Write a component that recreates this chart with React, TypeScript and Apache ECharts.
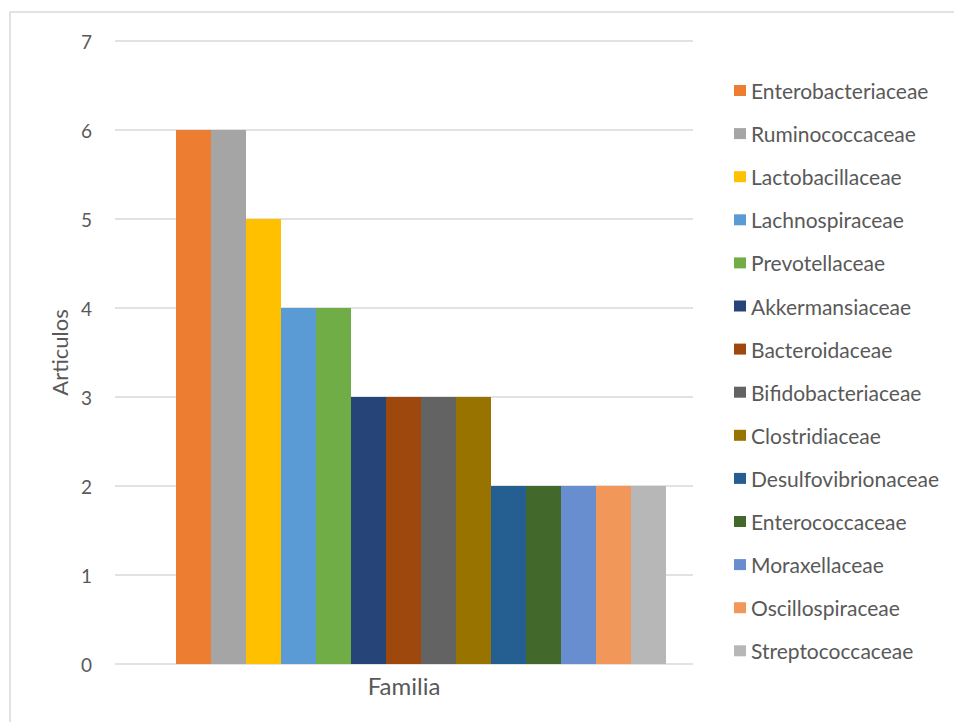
import React, { useEffect, useRef } from "react";
import * as echarts from "echarts";

// Number of articles per bacterial family
const families = [
  "Enterobacteriaceae",
  "Ruminococcaceae",
  "Lactobacillaceae",
  "Lachnospiraceae",
  "Prevotellaceae",
  "Akkermansiaceae",
  "Bacteroidaceae",
  "Bifidobacteriaceae",
  "Clostridiaceae",
  "Desulfovibrionaceae",
  "Enterococcaceae",
  "Moraxellaceae",
  "Oscillospiraceae",
  "Streptococcaceae",
];
const articles = [6, 6, 5, 4, 4, 3, 3, 3, 3, 2, 2, 2, 2, 2];
const colors = [
  "#ED7D31",
  "#A5A5A5",
  "#FFC000",
  "#5B9BD5",
  "#70AD47",
  "#264478",
  "#9E480E",
  "#636363",
  "#997300",
  "#255E91",
  "#43682B",
  "#698ED0",
  "#F1975A",
  "#B7B7B7",
];
const category = ["Familia"];
const yTicks = { min: 0, max: 7, interval: 1 };

const FONT = "Lato, 'Noto Sans', sans-serif";
const TEXT = "#595959";
const GRIDLINE = "#D9D9D9";

export default function App() {
  const ref = useRef<HTMLDivElement>(null);

  useEffect(() => {
    if (!ref.current) return;
    const chart = echarts.init(ref.current, null, { renderer: "svg" });

    const series = families.map((name, i) => ({
      name,
      type: "bar" as const,
      xAxisIndex: 1,
      yAxisIndex: 1,
      data: [articles[i]],
      barWidth: 35,
      barGap: "0%",
      itemStyle: { color: colors[i] },
      emphasis: { disabled: true },
    }));

    chart.setOption({
      animation: false,
      backgroundColor: "#FFFFFF",
      textStyle: { fontFamily: FONT },
      graphic: [
        {
          type: "rect",
          shape: { x: 10, y: 12, width: 980, height: 760 },
          style: { fill: "none", stroke: GRIDLINE, lineWidth: 1.5 },
          silent: true,
          z: -10,
        },
      ],
      grid: [
        { left: 115, right: 261, top: 41, bottom: 58 },
        { left: 149, right: 261, top: 41, bottom: 58 },
      ],
      xAxis: [
        {
          type: "category",
          gridIndex: 0,
          data: category,
          axisLine: { show: false },
          axisTick: { show: false },
          axisLabel: {
            color: TEXT,
            fontSize: 24,
            fontFamily: FONT,
            margin: 9,
          },
        },
        {
          type: "category",
          gridIndex: 1,
          data: category,
          show: false,
        },
      ],
      yAxis: [
        {
          type: "value",
          gridIndex: 0,
          ...yTicks,
          name: "Articulos",
          nameLocation: "middle",
          nameGap: 42,
          nameRotate: 90,
          nameTextStyle: { color: TEXT, fontSize: 22, fontFamily: FONT },
          axisLine: { show: false },
          axisTick: { show: false },
          axisLabel: {
            color: TEXT,
            fontSize: 19,
            fontFamily: FONT,
            margin: 23,
          },
          splitLine: { lineStyle: { color: GRIDLINE, width: 1.5 } },
        },
        {
          type: "value",
          gridIndex: 1,
          ...yTicks,
          show: false,
          splitLine: { show: false },
        },
      ],
      legend: {
        orient: "vertical",
        left: 729,
        top: 75,
        itemWidth: 12,
        itemHeight: 11,
        itemGap: 22.1,
        icon: "rect",
        selectedMode: false,
        data: families,
        textStyle: {
          color: TEXT,
          fontSize: 21,
          lineHeight: 20,
          fontFamily: FONT,
        },
      },
      series,
    });

    return () => chart.dispose();
  }, []);

  return (
    <div
      ref={ref}
      style={{ position: "fixed", left: 0, top: 0, width: 954, height: 722 }}
    />
  );
}
